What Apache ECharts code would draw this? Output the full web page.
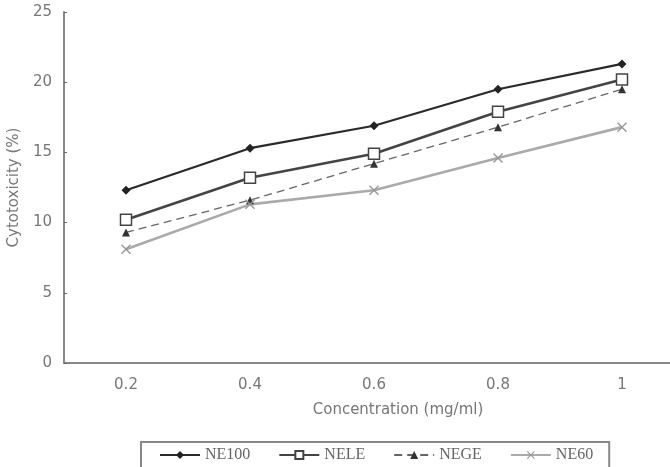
<!DOCTYPE html>
<html>
<head>
<meta charset="utf-8">
<script src="https://cdn.jsdelivr.net/npm/echarts@6/dist/echarts.min.js"></script>
<style>
  html, body { margin: 0; padding: 0; background: #fff; }
  #chart { width: 670px; height: 467px; }
</style>
</head>
<body>
<div id="chart"></div>
<script>
// x categories (mg/ml)
const concentrations = ["0.2", "0.4", "0.6", "0.8", "1"];
// cytotoxicity (%)
const ne100 = [12.3, 15.3, 16.9, 19.5, 21.3];
const nele = [10.2, 13.2, 14.9, 17.9, 20.2];
const nege = [9.3, 11.6, 14.2, 16.8, 19.5];
const ne60 = [8.1, 11.3, 12.3, 14.6, 16.8];

const crossPath = "path://M0,1L1,0L5,4L9,0L10,1L6,5L10,9L9,10L5,6L1,10L0,9L4,5Z";

const chart = echarts.init(document.getElementById("chart"));
chart.setOption({
  animation: false,
  textStyle: { fontFamily: "DejaVu Sans" },
  grid: { left: 64, right: -14, top: 12, bottom: 104, outerBoundsMode: "none", containLabel: false },
  legend: {
    left: 141,
    top: 442,
    itemWidth: 40,
    itemHeight: 10,
    itemGap: 28,
    padding: [5, 16, 20, 18],
    borderColor: "#888",
    borderWidth: 2,
    textStyle: { fontFamily: "Liberation Serif", fontSize: 16, color: "#666" },
    data: ["NE100", "NELE", "NEGE", "NE60"]
  },
  xAxis: {
    type: "category",
    data: concentrations,
    boundaryGap: true,
    name: "Concentration (mg/ml)",
    nameLocation: "middle",
    nameGap: 40,
    nameTextStyle: { fontSize: 15, color: "#777", padding: [0, 0, 0, 48] },
    axisLine: { lineStyle: { color: "#888", width: 2 } },
    axisTick: { inside: true, length: 4, lineStyle: { color: "#666" } },
    axisLabel: { margin: 15, fontSize: 15, color: "#777" }
  },
  yAxis: {
    type: "value",
    min: 0,
    max: 25,
    interval: 5,
    name: "Cytotoxicity (%)",
    nameLocation: "middle",
    nameGap: 42,
    nameTextStyle: { fontSize: 15, color: "#777" },
    splitLine: { show: false },
    axisLine: { show: true, lineStyle: { color: "#888", width: 2 } },
    axisTick: { show: true, inside: true, length: 3, lineStyle: { color: "#666" } },
    axisLabel: { margin: 12, fontSize: 15, color: "#777" }
  },
  series: [
    {
      name: "NE100", type: "line", data: ne100,
      symbol: "diamond", symbolSize: 9,
      itemStyle: { color: "#222" },
      lineStyle: { color: "#2a2a2a", width: 2.2 }
    },
    {
      name: "NELE", type: "line", data: nele,
      symbol: "rect", symbolSize: 11,
      itemStyle: { color: "#fff", borderColor: "#444", borderWidth: 1.5 },
      lineStyle: { color: "#444", width: 2.6 }
    },
    {
      name: "NEGE", type: "line", data: nege,
      symbol: "triangle", symbolSize: 8,
      itemStyle: { color: "#333" },
      lineStyle: { color: "#666", width: 1.3, type: [8, 5] }
    },
    {
      name: "NE60", type: "line", data: ne60,
      symbol: crossPath, symbolSize: 10,
      itemStyle: { color: "#999" },
      lineStyle: { color: "#aaa", width: 2.6 }
    }
  ]
});
</script>
</body>
</html>
